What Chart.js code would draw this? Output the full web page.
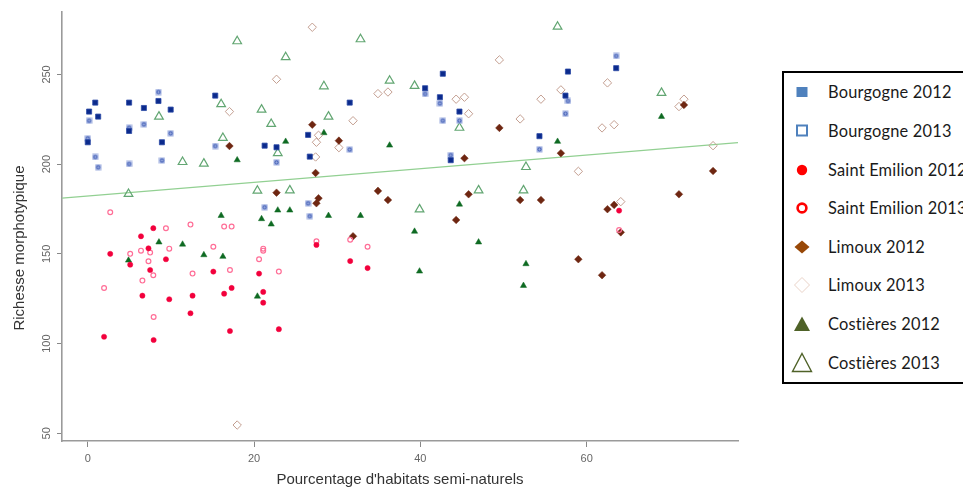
<!DOCTYPE html>
<html>
<head>
<meta charset="utf-8">
<script src="https://cdn.jsdelivr.net/npm/chart.js@4.4.0/dist/chart.umd.min.js"></script>
<style>
  html, body { margin: 0; padding: 0; background: #fff; overflow: hidden; }
  #wrap { position: relative; width: 963px; height: 491px; overflow: hidden; }
  #chart { position: absolute; left: 0; top: 0; }
  #legend { position: absolute; left: 782px; top: 71px; width: 200px; height: 313px;
            border: 2px solid #000; border-right: none; box-sizing: border-box; background: #fff;
            font-family: Lato, "Open Sans", sans-serif; font-size: 16.4px; color: #1a1a1a; }
  .row { position: absolute; left: 0; height: 24px; width: 200px; }
  .row svg { position: absolute; left: 6px; top: 0; }
  .row span { position: absolute; left: 44px; top: 0; line-height: 24px; white-space: nowrap; letter-spacing: 0.2px; }
</style>
</head>
<body>
<div id="wrap">
  <canvas id="chart" width="963" height="491"></canvas>
  <div id="legend"></div>
</div>
<script>
// x = pourcentage d'habitats semi-naturels, y = richesse morphotypique
var bourgogneX    = [0.9, 1.25, 0.16, 0, 4.97, 4.97, 6.75, 8.5, 9.97, 8.92, 15.33, 21.27, 22.7,
                     42.7, 40.57, 42.35, 44.7, 31.5, 26.5, 26.7, 43.65, 57.75, 63.55, 57.45, 54.32];
var bourgogne2012 = [234.3, 226.5, 229.3, 212.2, 234.3, 218.5, 231.3, 235.2, 230.4, 212.2, 238.2, 210.3, 209.4,
                     250.4, 242.3, 237.3, 229.3, 234.3, 216.3, 204.2, 202.2, 251.6, 253.5, 238.2, 215.6];
var bourgogne2013 = [204.0, 198.3, 224.2, 214.4, 220.3, 200.1, 222.2, 240.2, 217.2, 202.0, 210.1, 176.0, 201.0,
                     224.2, 239.1, 233.9, 224.2, 208.1, 178.2, 171.0, 205.0, 235.2, 260.3, 228.1, 208.3];

var emilionX    = [2.7, 9.4, 9.8, 12.35, 12.6, 16.4, 17.3, 17.1, 15.1, 5.1, 6.4, 7.5, 7.3, 7.88, 7.92,
                   6.57, 20.6, 21.1, 21.1, 22.98, 1.96, 27.5, 31.56, 33.65, 63.9];
var emilion2012 = [150.0, 147.0, 124.7, 116.9, 126.7, 127.8, 131.0, 107.0, 140.1, 144.0, 159.8, 141.0, 153.1, 164.3, 102.0,
                   126.7, 139.0, 128.8, 122.8, 108.0, 103.8, 155.0, 146.0, 142.1, 174.1];
var emilion2013 = [173.2, 164.3, 152.9, 166.3, 139.0, 165.2, 165.2, 141.0, 154.0, 150.0, 151.8, 150.7, 145.9, 138.1, 114.8,
                   135.1, 147.0, 152.9, 151.8, 140.1, 131.0, 157.0, 157.9, 154.0, 163.3];

var limouxX    = [17.04, 17.97, 22.7, 27.0, 30.2, 49.5, 45.3, 27.4, 34.9, 27.75, 27.5, 36.1, 45.8,
                  52.0, 44.3, 31.9, 71.7, 56.9, 75.2, 71.1, 54.5, 63.3, 62.5, 64.1, 59.0, 61.85];
var limoux2012 = [210.1, null, 184.1, 222.0, 213.1, 220.2, 203.3, 195.1, 185.1, 181.0, 178.2, 180.0, 183.2,
                  180.0, 168.9, 159.8, 233.0, 206.1, 196.2, 183.2, 180.0, 177.3, 174.9, 162.0, 147.0, 138.1];
var limoux2013 = [229.3, 54.6, 247.3, 276.3, 209.2, 258.1, 237.3, 204.0, 239.3, 216.1, 212.2, 240.2, 228.1,
                  225.2, 236.2, 224.2, 236.2, 241.4, 210.3, 232.1, 236.2, 222.0, 245.3, 179.1, 196.0, 220.2];

var costieresX    = [23.8, 17.97, 16.04, 22.85, 24.3, 20.9, 22.06, 8.56, 11.4, 4.9, 13.96, 16.25, 20.4,
                     28.4, 36.3, 44.7, 28.95, 32.8, 39.3, 47.0, 39.9, 52.7, 52.4, 69.0, 56.5];
var costieres2012 = [212.6, 202.3, 171.3, 174.3, 174.3, 169.5, 166.5, 156.5, 155.3, 146.4, 149.4, 148.5, 126.3,
                     217.4, 210.5, 177.6, 171.3, 171.3, 162.5, 156.5, 140.3, 144.4, 132.3, 226.5, 212.6];
var costieres2013 = [259.6, 268.5, 233.4, 206.1, 185.4, 230.4, 222.4, 226.5, 201.2, 183.4, 200.3, 214.6, 185.2,
                     243.4, 246.5, 220.3, 226.5, 269.6, 243.6, 185.4, 174.8, 198.4, 185.4, 239.7, 276.6];

// droite de regression (toutes les parcelles)
var regIntercept = 182.2;
var regSlope = 0.381;

var seriesNames = ["Bourgogne 2012", "Bourgogne 2013", "Saint Emilion 2012", "Saint Emilion 2013",
                   "Limoux 2012", "Limoux 2013", "Costières 2012", "Costières 2013"];
var xTicks = [0, 20, 40, 60];
var yTicks = [50, 100, 150, 200, 250];
var xLimits = [-3.1, 78.2];
var yLimits = [45.7, 284.8];
var xTitle = "Pourcentage d'habitats semi-naturels";
var yTitle = "Richesse morphotypique";

function toPoints(xs, ys) {
    var out = [];
    for (var i = 0; i < xs.length; i++) {
        if (ys[i] !== null) out.push({ x: xs[i], y: ys[i] });
    }
    return out;
}

// small square with a ring inside (Bourgogne 2013 marker)
function ringSquare() {
    var c = document.createElement('canvas');
    c.width = 7; c.height = 7;
    var g = c.getContext('2d');
    g.fillStyle = '#9fafe0';
    g.fillRect(0.5, 0.5, 6, 6);
    g.strokeStyle = '#3453b0';
    g.lineWidth = 1;
    g.beginPath();
    g.arc(3.5, 3.5, 1.6, 0, Math.PI * 2);
    g.stroke();
    return c;
}

var axisTexts = {
    id: 'axisTexts',
    afterDraw: function (chart) {
        var ctx = chart.ctx;
        var y = chart.scales.y;
        ctx.save();
        ctx.fillStyle = '#666';
        ctx.font = '11px "Liberation Sans", Arial, sans-serif';
        ctx.textAlign = 'center';
        ctx.textBaseline = 'middle';
        for (var i = 0; i < yTicks.length; i++) {
            var py = y.getPixelForValue(yTicks[i]);
            ctx.save();
            ctx.translate(47, py);
            ctx.rotate(-Math.PI / 2);
            ctx.fillText(String(yTicks[i]), 0, 0);
            ctx.restore();
        }
        ctx.fillStyle = '#333';
        ctx.font = '15px "Liberation Sans", Arial, sans-serif';
        ctx.fillText(xTitle, (chart.chartArea.left + chart.chartArea.right) / 2, 480);
        ctx.translate(20, 248);
        ctx.rotate(-Math.PI / 2);
        ctx.fillText(yTitle, 0, 0);
        ctx.restore();
    }
};

var config = {
    type: 'scatter',
    data: {
        datasets: [
            {
                label: seriesNames[0],
                data: toPoints(bourgogneX, bourgogne2012),
                pointStyle: 'rect', pointRadius: 3.6,
                backgroundColor: '#0b2a8c', borderColor: '#2c4aa6', borderWidth: 0.8
            },
            {
                label: seriesNames[1],
                data: toPoints(bourgogneX, bourgogne2013),
                pointStyle: ringSquare(), pointRadius: 3.5
            },
            {
                label: seriesNames[2],
                data: toPoints(emilionX, emilion2012),
                pointStyle: 'circle', pointRadius: 2.6,
                backgroundColor: '#f2003c', borderColor: '#f2003c', borderWidth: 0.5
            },
            {
                label: seriesNames[3],
                data: toPoints(emilionX, emilion2013),
                pointStyle: 'circle', pointRadius: 2.4,
                backgroundColor: 'rgba(0,0,0,0)', borderColor: '#ff6e97', borderWidth: 1.2
            },
            {
                label: seriesNames[4],
                data: toPoints(limouxX, limoux2012),
                pointStyle: 'rectRot', pointRadius: 3.8,
                backgroundColor: '#6e2611', borderColor: '#6e2611', borderWidth: 0.5
            },
            {
                label: seriesNames[5],
                data: toPoints(limouxX, limoux2013),
                pointStyle: 'rectRot', pointRadius: 4.2,
                backgroundColor: 'rgba(0,0,0,0)', borderColor: '#c39e90', borderWidth: 1
            },
            {
                label: seriesNames[6],
                data: toPoints(costieresX, costieres2012),
                pointStyle: 'triangle', pointRadius: 3.6,
                backgroundColor: '#0e6a22', borderColor: '#0e6a22', borderWidth: 0.5
            },
            {
                label: seriesNames[7],
                data: toPoints(costieresX, costieres2013),
                pointStyle: 'triangle', pointRadius: 5,
                backgroundColor: 'rgba(0,0,0,0)', borderColor: '#62a672', borderWidth: 1.2
            },
            {
                type: 'line',
                label: 'regression',
                data: [
                    { x: xLimits[0], y: regIntercept + regSlope * xLimits[0] },
                    { x: xLimits[1], y: regIntercept + regSlope * xLimits[1] }
                ],
                borderColor: '#92d092', borderWidth: 1.3, pointRadius: 0, fill: false
            }
        ]
    },
    options: {
        responsive: false,
        animation: false,
        events: [],
        layout: { padding: { left: 0, top: 12, right: 225, bottom: 0 } },
        plugins: { legend: { display: false }, tooltip: { enabled: false } },
        scales: {
            x: {
                type: 'linear', min: xLimits[0], max: xLimits[1],
                afterBuildTicks: function (scale) {
                    scale.ticks = xTicks.map(function (v) { return { value: v }; });
                },
                afterFit: function (scale) { scale.height = 50; },
                grid: { drawOnChartArea: false, drawTicks: true, tickLength: 6, color: '#888', lineWidth: 1 },
                border: { color: '#9a9a9a', width: 1.6 },
                ticks: { color: '#666', padding: 5, font: { family: '"Liberation Sans", Arial, sans-serif', size: 11 } }
            },
            y: {
                type: 'linear', min: yLimits[0], max: yLimits[1],
                afterBuildTicks: function (scale) {
                    scale.ticks = yTicks.map(function (v) { return { value: v }; });
                },
                afterFit: function (scale) { scale.width = 62; },
                grid: { drawOnChartArea: false, drawTicks: true, tickLength: 5, color: '#888', lineWidth: 1 },
                border: { color: '#9a9a9a', width: 1.6 },
                ticks: { display: false }
            }
        }
    },
    plugins: [axisTexts]
};

var ctx = document.getElementById('chart').getContext('2d');
window.myScatter = new Chart(ctx, config);

// legend box (copied from the slide, own colours)
var legendMarkers = [
    '<rect x="6.5" y="7" width="11" height="10" fill="#4f81bd"/>',
    '<rect x="7" y="6.5" width="10" height="10" fill="#fff" stroke="#4f81bd" stroke-width="2"/>',
    '<circle cx="12" cy="12" r="5.2" fill="#ff0000"/>',
    '<circle cx="12" cy="12" r="4.4" fill="#fff" stroke="#ff0000" stroke-width="2.6"/>',
    '<polygon points="12,5.5 19.5,12 12,18.5 4.5,12" fill="#984807"/>',
    '<polygon points="12,4.5 19.5,12 12,19.5 4.5,12" fill="#fff" stroke="#ead3c8" stroke-width="1"/>',
    '<polygon points="12,4.5 20,19 4,19" fill="#4f6228"/>',
    '<polygon points="12,2.5 21.5,20.5 2.5,20.5" fill="#fff" stroke="#4f6228" stroke-width="1.4"/>'
];
var legendBox = document.getElementById('legend');
for (var i = 0; i < seriesNames.length; i++) {
    var row = document.createElement('div');
    row.className = 'row';
    row.style.top = (19.3 + 38.63 * i - 12) + 'px';
    row.innerHTML = '<svg width="24" height="24" viewBox="0 0 24 24">' + legendMarkers[i] + '</svg>' +
                    '<span>' + seriesNames[i] + '</span>';
    legendBox.appendChild(row);
}
</script>
</body>
</html>
